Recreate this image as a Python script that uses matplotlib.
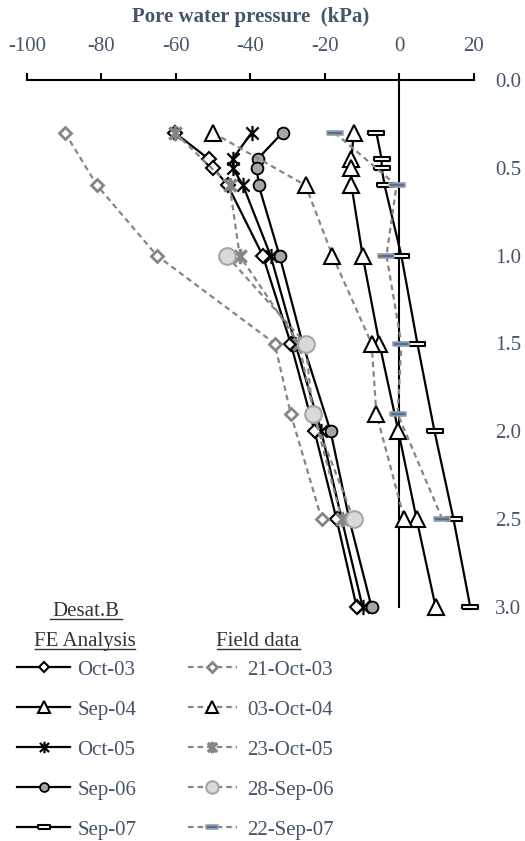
import matplotlib
matplotlib.use('Agg')
import matplotlib.pyplot as plt
from matplotlib.path import Path
from matplotlib.lines import Line2D

plt.rcParams['font.family'] = ['Liberation Serif', 'DejaVu Serif']

# depths (m) for the FE runs and for the field readings
fe_depth = [0.3, 0.45, 0.5, 0.6, 1.0, 1.5, 2.0, 2.5, 3.0]
field_depth = [0.3, 0.6, 1.0, 1.5, 1.9, 2.5]
field_depth_06 = [1.0, 1.5, 1.9, 2.5]

# FE analysis (Desat.B), pore water pressure in kPa
fe_oct03 = [-60.3, -51.2, -50.0, -46.1, -36.7, -29.2, -22.8, -16.9, -11.5]
fe_sep04 = [-12.3, -12.9, -12.9, -12.9, -9.9, -5.4, -0.3, 4.6, 9.7]
fe_oct05 = [-39.7, -44.8, -44.8, -42.0, -34.6, -28.0, -21.0, -15.5, -9.9]
fe_sep06 = [-31.4, -38.1, -38.3, -37.8, -32.2, -26.0, -18.5, -13.5, -7.5]
fe_sep07 = [-6.2, -4.8, -4.8, -4.0, 0.5, 4.8, 9.4, 14.5, 19.0]

# field data
fd_21oct03 = [-89.8, -81.2, -65.1, -33.5, -29.2, -20.9]
fd_03oct04 = [-50.1, -25.2, -18.0, -7.5, -6.2, 1.3]
fd_23oct05 = [-60.3, -45.6, -42.9, -27.0, -23.0, -15.5]
fd_28sep06 = [-46.4, -25.2, -23.3, -12.3]
fd_22sep07 = [-17.4, -0.8, -3.5, 0.5, -0.5, 11.5]

fe_labels = ['Oct-03', 'Sep-04', 'Oct-05', 'Sep-06', 'Sep-07']
fd_labels = ['21-Oct-03', '03-Oct-04', '23-Oct-05', '28-Sep-06', '22-Sep-07']

x_ticks = [-100, -80, -60, -40, -20, 0, 20]
y_ticks = [0.0, 0.5, 1.0, 1.5, 2.0, 2.5, 3.0]

TXT = '#44546A'
GREY = '#858585'

# excel style markers
star = Path([(0, -1), (0, 1), (-0.8, -0.8), (0.8, 0.8), (-0.8, 0.8), (0.8, -0.8)],
            [Path.MOVETO, Path.LINETO] * 3)
rect = [(-1, -0.3), (1, -0.3), (1, 0.3), (-1, 0.3), (-1, -0.3)]

W, H = 525, 841
fig = plt.figure(figsize=(W / 100, H / 100), dpi=100)
ax = fig.add_axes([27 / W, 1 - 607 / H, (474 - 27) / W, (607 - 80) / H])

fe_style = dict(color='black', lw=1.6, clip_on=False, zorder=3)
fe_lines = [
    ax.plot(fe_oct03, fe_depth, marker='D', ms=7, mfc='white', mec='black', mew=1.5, **fe_style)[0],
    ax.plot(fe_sep04, fe_depth, marker='^', ms=11, mfc='white', mec='black', mew=1.5, **fe_style)[0],
    ax.plot(fe_oct05, fe_depth, marker=star, ms=11, mfc='none', mec='black', mew=1.6, **fe_style)[0],
    ax.plot(fe_sep06, fe_depth, marker='o', ms=8.5, mfc='#a6a6a6', mec='black', mew=1.3, **fe_style)[0],
    ax.plot(fe_sep07, fe_depth, marker=rect, ms=11, mfc='white', mec='black', mew=1.5, **fe_style)[0],
]

fd_style = dict(color=GREY, lw=1.6, ls=(0, (2.5, 1.8)), clip_on=False, zorder=4)
fd_lines = [
    ax.plot(fd_21oct03, field_depth, marker='D', ms=6.5, mfc='white', mec=GREY, mew=2, **fd_style)[0],
    ax.plot(fd_03oct04, field_depth, marker='^', ms=11, mfc='white', mec='black', mew=1.5, **fd_style)[0],
    ax.plot(fd_23oct05, field_depth, marker=star, ms=11, mfc='none', mec=GREY, mew=2.5, **fd_style)[0],
    ax.plot(fd_28sep06, field_depth_06, marker='o', ms=12, mfc='#d9d9d9', mec='#a6a6a6', mew=1.5, **fd_style)[0],
    ax.plot(fd_22sep07, field_depth, marker=rect, ms=11, mfc='#4a6fa5', mec='#a0a0a0', mew=1.2, **fd_style)[0],
]

ax.set_xlim(-100, 20)
ax.set_ylim(3.0, 0.0)
ax.set_xticks(x_ticks)
ax.set_xticklabels([str(v) for v in x_ticks])
ax.set_yticks(y_ticks)
ax.set_yticklabels(['%.1f' % v for v in y_ticks])

ax.xaxis.tick_top()
ax.xaxis.set_label_position('top')
ax.tick_params(axis='x', direction='out', length=5, width=1.5, pad=12,
               labelsize=15, labelcolor=TXT)
ax.yaxis.tick_right()
ax.tick_params(axis='y', length=0, pad=15, labelsize=15, labelcolor=TXT)
ax.set_xlabel('Pore water pressure  (kPa)', fontsize=15, fontweight='bold',
              color=TXT, labelpad=11)

ax.spines['bottom'].set_visible(False)
ax.spines['right'].set_visible(False)
ax.spines['left'].set_position(('data', 0))
ax.spines['left'].set_linewidth(1.5)
ax.spines['top'].set_linewidth(1.5)
ax.patch.set_visible(False)

# legends
leg1 = ax.legend(fe_lines, fe_labels, loc='upper left',
                 bbox_to_anchor=(17 / W, 1 - 660 / H), bbox_transform=fig.transFigure,
                 frameon=False, fontsize=15, labelcolor=TXT, numpoints=1, markerscale=0.75,
                 handlelength=2.55, handletextpad=0.34, labelspacing=0.98,
                 borderpad=0, borderaxespad=0)
ax.add_artist(leg1)
ax.legend(fd_lines, fd_labels, loc='upper left',
          bbox_to_anchor=(188 / W, 1 - 660 / H), bbox_transform=fig.transFigure,
          frameon=False, fontsize=15, labelcolor=TXT, numpoints=1, markerscale=0.75,
          handlelength=2.35, handletextpad=0.48, labelspacing=0.98,
          borderpad=0, borderaxespad=0)

# legend headings, underlined
HEAD = '#333333'
fig.text(86 / W, 1 - 616 / H, 'Desat.B', ha='center', va='baseline', fontsize=15, color=HEAD)
fig.text(85 / W, 1 - 646 / H, 'FE Analysis', ha='center', va='baseline', fontsize=15, color=HEAD)
fig.text(258 / W, 1 - 646 / H, 'Field data', ha='center', va='baseline', fontsize=15, color=HEAD)
for x0, x1, y in [(50, 122, 619), (35, 135, 649), (217, 300, 649)]:
    fig.add_artist(Line2D([x0 / W, x1 / W], [1 - y / H, 1 - y / H],
                          transform=fig.transFigure, color=HEAD, lw=1))

fig.savefig('out.png', dpi=100)
